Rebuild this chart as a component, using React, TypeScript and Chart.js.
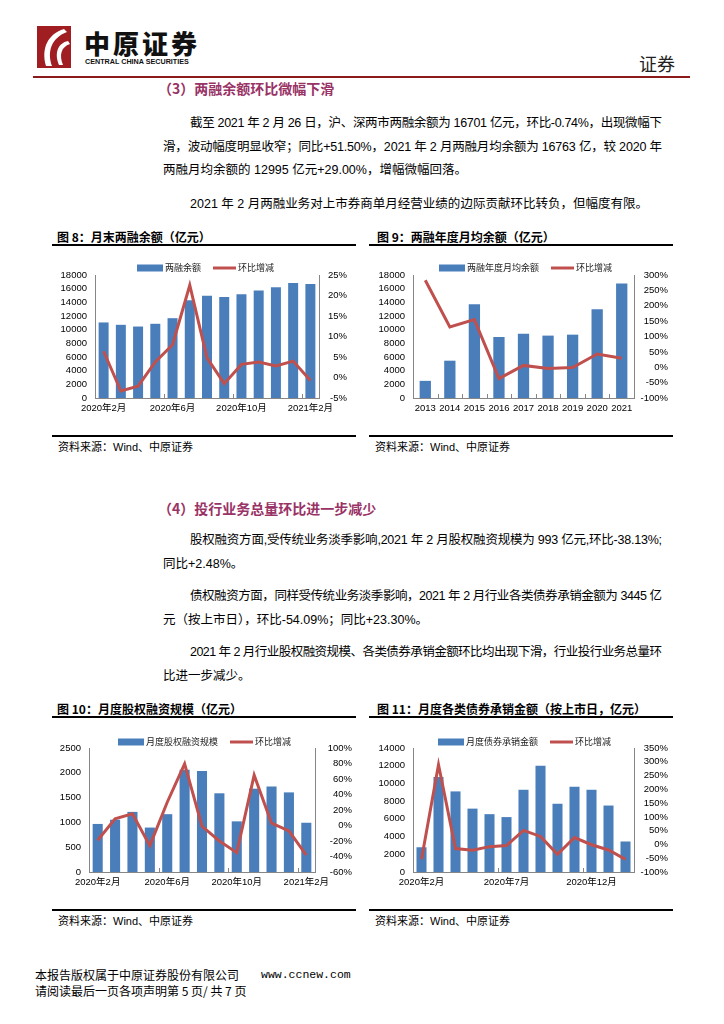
import React, { useEffect, useLayoutEffect, useRef } from 'react';
import { Chart, registerables } from 'chart.js';

Chart.register(...registerables);

// ---------------- data ----------------
const monthLabels = ['2020年2月', '2020年3月', '2020年4月', '2020年5月', '2020年6月', '2020年7月', '2020年8月', '2020年9月', '2020年10月', '2020年11月', '2020年12月', '2021年1月', '2021年2月'];
const marginBalance = [11055, 10710, 10460, 10860, 11680, 14290, 14960, 14770, 15200, 15740, 16220, 16826, 16701];
const marginBalanceMoM = [6.4, -3.3, -2.1, 3.8, 8.0, 22.5, 4.8, -1.5, 3.2, 3.8, 2.8, 4.0, -0.74];

const yearLabels = ['2013', '2014', '2015', '2016', '2017', '2018', '2019', '2020', '2021'];
const avgMarginBalance = [2510, 5460, 13710, 8930, 9420, 9130, 9270, 12995, 16763];
const avgMarginChange = [283, 131, 155, -37, 6, -4, -1, 43, 29];

const equityFinancing = [969, 1054, 1212, 896, 1166, 2062, 2036, 1587, 1021, 1680, 1726, 1605, 993];
const equityFinancingMoM = [-19, 8.6, 15, -26, 30, 79.6, -1, -20, -35, 65, 3, -7, -38.13];

const bondUnderwriting = [2794, 10715, 9100, 7155, 6530, 6200, 9285, 12000, 7705, 9615, 9285, 7504, 3445];
const bondUnderwritingMoM = [-54, 289, -15, -21, -8, -4, 51, 29, -36, 25, -1, -20, -54.09];

// ---------------- styles ----------------
const BAR = '#4A7EBB';
const LINE = '#C0504D';
const AXIS = '#868686';
const CJK = '"Noto Sans CJK SC", sans-serif';
const MIX = '"Liberation Sans", Arial, "Noto Sans CJK SC", sans-serif';

const customLegend = {
  id: 'customLegend',
  afterDraw(chart: any, _args: any, opts: any) {
    if (!opts || opts.x == null) return;
    const ctx = chart.ctx;
    ctx.save();
    ctx.font = `${opts.size || 9}px ${CJK}`;
    ctx.textBaseline = 'middle';
    ctx.textAlign = 'left';
    let x = opts.x;
    const y = opts.y;
    chart.data.datasets.forEach((ds: any, i: number) => {
      if (i > 0) x += 12;
      if (ds.type === 'bar') {
        ctx.fillStyle = ds.backgroundColor;
        ctx.fillRect(x, y - 3.5, 26, 7);
        x += 28;
      } else {
        ctx.strokeStyle = ds.borderColor;
        ctx.lineWidth = 3;
        ctx.beginPath();
        ctx.moveTo(x, y);
        ctx.lineTo(x + 23, y);
        ctx.stroke();
        x += 25;
      }
      ctx.fillStyle = '#222';
      ctx.fillText(ds.label, x, y);
      x += ctx.measureText(ds.label).width;
    });
    ctx.restore();
  },
};

// small inward tick marks on the category axis, placed between categories
const innerTicks = {
  id: 'innerTicks',
  afterDraw(chart: any, _args: any, opts: any) {
    const every = opts && opts.every;
    if (!every) return;
    const xs = chart.scales.x;
    const n = chart.data.labels.length;
    const ctx = chart.ctx;
    ctx.save();
    ctx.strokeStyle = AXIS;
    ctx.lineWidth = 1;
    for (let k = every; k < n; k += every) {
      const px = Math.round((xs.getPixelForValue(k - 1) + xs.getPixelForValue(k)) / 2) + 0.5;
      ctx.beginPath();
      ctx.moveTo(px, xs.top);
      ctx.lineTo(px, xs.top - 4);
      ctx.stroke();
    }
    ctx.restore();
  },
};

type Spec = {
  left: number; top: number; w: number; h: number;
  labels: string[]; bars: number[]; line: number[];
  barLabel: string; lineLabel: string;
  yMin: number; yMax: number; yStep: number;
  rMin: number; rMax: number; rStep: number;
  labelEvery: number; barPct: number;
  padTop: number; padRight: number; leftW: number; rightW: number; xH: number;
  legendX: number; legendY: number;
};

function buildConfig(s: Spec): any {
  const tickFont = { family: MIX, size: 9.5 };
  return {
    type: 'bar',
    data: {
      labels: s.labels,
      datasets: [
        { type: 'bar', label: s.barLabel, data: s.bars, backgroundColor: BAR, yAxisID: 'y', order: 1, barPercentage: s.barPct, categoryPercentage: 1 },
        { type: 'line', label: s.lineLabel, data: s.line, borderColor: LINE, backgroundColor: LINE, borderWidth: 3, pointRadius: 0, tension: 0, yAxisID: 'y1', order: 0 },
      ],
    },
    options: {
      animation: false,
      responsive: false,
      layout: { padding: { top: s.padTop, right: s.padRight, left: 0, bottom: 0 } },
      plugins: {
        legend: { display: false },
        tooltip: { enabled: false },
        customLegend: { x: s.legendX, y: s.legendY, size: 9 },
        innerTicks: { every: s.labelEvery },
      },
      scales: {
        x: {
          grid: { display: false, drawTicks: false },
          border: { display: true, color: AXIS },
          ticks: {
            autoSkip: false, maxRotation: 0, minRotation: 0, padding: 5, color: '#000', font: tickFont,
            callback(this: any, v: any, i: number) { return i % s.labelEvery === 0 ? this.getLabelForValue(v) : ''; },
          },
          afterFit(scale: any) { scale.height = s.xH; },
        },
        y: {
          position: 'left', min: s.yMin, max: s.yMax,
          grid: { display: false, drawTicks: false },
          border: { display: true, color: AXIS },
          ticks: { stepSize: s.yStep, autoSkip: false, padding: 8, color: '#000', font: tickFont, callback: (v: any) => String(v) },
          afterFit(scale: any) { scale.width = s.leftW; },
        },
        y1: {
          position: 'right', min: s.rMin, max: s.rMax,
          grid: { display: false, drawTicks: false },
          border: { display: true, color: AXIS },
          ticks: { stepSize: s.rStep, autoSkip: false, padding: 5, color: '#000', font: tickFont, crossAlign: 'far', callback: (v: any) => v + '%' },
          afterFit(scale: any) { scale.width = s.rightW; },
        },
      },
    },
    plugins: [customLegend, innerTicks],
  };
}

function ChartBox({ spec }: { spec: Spec }) {
  const ref = useRef<HTMLCanvasElement>(null);
  useEffect(() => {
    const chart = new Chart(ref.current as HTMLCanvasElement, buildConfig(spec));
    return () => chart.destroy();
  }, []);
  return (
    <canvas ref={ref} width={spec.w} height={spec.h}
      style={{ position: 'absolute', left: spec.left, top: spec.top, width: spec.w, height: spec.h }} />
  );
}

function Line({ x, y, text, right, size = 12.5, style = {} }: any) {
  const ref = useRef<HTMLSpanElement>(null);
  useLayoutEffect(() => {
    if (right == null || !ref.current) return;
    const el = ref.current;
    el.style.letterSpacing = '0px';
    const w = el.getBoundingClientRect().width;
    const n = Array.from(text as string).length;
    el.style.letterSpacing = ((right - x - w) / (n - 1)) + 'px';
  }, []);
  return (
    <div style={{ position: 'absolute', left: x, top: y - 10, lineHeight: '20px', whiteSpace: 'nowrap', fontSize: size, fontFamily: MIX, color: '#000', ...style }}>
      <span ref={ref}>{text}</span>
    </div>
  );
}

const chart8: Spec = {
  left: 52, top: 250, w: 306, h: 175,
  labels: monthLabels, bars: marginBalance, line: marginBalanceMoM,
  barLabel: '两融余额', lineLabel: '环比增减',
  yMin: 0, yMax: 18000, yStep: 2000, rMin: -5, rMax: 25, rStep: 5,
  labelEvery: 4, barPct: 0.58,
  padTop: 25, padRight: 11, leftW: 43, rightW: 28, xH: 27, legendX: 85, legendY: 18,
};
const chart9: Spec = {
  left: 369, top: 250, w: 306, h: 175,
  labels: yearLabels, bars: avgMarginBalance, line: avgMarginChange,
  barLabel: '两融年度月均余额', lineLabel: '环比增减',
  yMin: 0, yMax: 18000, yStep: 2000, rMin: -100, rMax: 300, rStep: 50,
  labelEvery: 1, barPct: 0.46,
  padTop: 25, padRight: 7, leftW: 44, rightW: 34, xH: 27, legendX: 70, legendY: 18,
};
const chart10: Spec = {
  left: 52, top: 722, w: 306, h: 175,
  labels: monthLabels, bars: equityFinancing, line: equityFinancingMoM,
  barLabel: '月度股权融资规模', lineLabel: '环比增减',
  yMin: 0, yMax: 2500, yStep: 500, rMin: -60, rMax: 100, rStep: 20,
  labelEvery: 4, barPct: 0.58,
  padTop: 26, padRight: 6, leftW: 37, rightW: 37, xH: 25, legendX: 66, legendY: 20,
};
const chart11: Spec = {
  left: 369, top: 722, w: 306, h: 175,
  labels: monthLabels, bars: bondUnderwriting, line: bondUnderwritingMoM,
  barLabel: '月度债券承销金额', lineLabel: '环比增减',
  yMin: 0, yMax: 14000, yStep: 2000, rMin: -100, rMax: 350, rStep: 50,
  labelEvery: 5, barPct: 0.59,
  padTop: 26, padRight: 7, leftW: 44, rightW: 34, xH: 25, legendX: 69, legendY: 20,
};

const abs = (o: any) => ({ position: 'absolute' as const, ...o });

function ChartTitle({ x, y, lineX, text }: any) {
  return (
    <>
      <div style={abs({ left: x, top: y - 9, lineHeight: '18px', fontSize: 12, fontWeight: 700, fontFamily: CJK, color: '#000', whiteSpace: 'nowrap' })}>{text}</div>
      <div style={abs({ left: lineX, top: y + 7, width: 304, height: 2, background: '#000' })} />
    </>
  );
}

function Source({ x, lineY, lineX }: any) {
  return (
    <>
      <div style={abs({ left: lineX, top: lineY, width: 304, height: 2, background: '#000' })} />
      <div style={abs({ left: x, top: lineY + 3, lineHeight: '18px', fontSize: 11, fontFamily: MIX, color: '#000', whiteSpace: 'nowrap' })}>资料来源：Wind、中原证券</div>
    </>
  );
}

export default function App() {
  const R = 662;
  return (
    <div style={abs({ left: 0, top: 0, width: 724, height: 1024, background: '#fff', overflow: 'hidden' })}>
      {/* header */}
      <svg width="34" height="42" style={abs({ left: 37, top: 26 })}>
        <rect x="0" y="0" width="34" height="42" fill="#A01E22" />
        <path d="M27 3 C 11 8, 4 22, 9 40 L 15 40 C 10 26, 14 12, 30 6 Z" fill="#fff" />
        <path d="M31 15 C 21 17, 17 27, 22 39 L 26 39 C 22 29, 24 21, 33 18 Z" fill="#fff" />
      </svg>
      <div style={abs({ left: 84, top: 28, fontSize: 26, lineHeight: '30px', fontWeight: 900, fontFamily: CJK, letterSpacing: 3, color: '#111' })}>中原证券</div>
      <div style={abs({ left: 85, top: 57, fontSize: 7.2, lineHeight: '9px', fontWeight: 700, fontFamily: MIX, color: '#111', whiteSpace: 'nowrap' })}>CENTRAL CHINA SECURITIES</div>
      <div style={abs({ left: 639, top: 52, fontSize: 18, lineHeight: '22px', fontFamily: CJK, color: '#222' })}>证券</div>
      <div style={abs({ left: 33, top: 76, width: 657, height: 2, background: '#8B1A1A' })} />

      {/* section 3 */}
      <div style={abs({ left: 158, top: 78, fontSize: 14, lineHeight: '20px', fontWeight: 700, fontFamily: CJK, color: '#993366', whiteSpace: 'nowrap' })}>（3）两融余额环比微幅下滑</div>
      <Line x={190} y={123} right={R} text="截至 2021 年 2 月 26 日，沪、深两市两融余额为 16701 亿元，环比-0.74%，出现微幅下" />
      <Line x={163} y={146.5} right={R} text="滑，波动幅度明显收窄；同比+51.50%，2021 年 2 月两融月均余额为 16763 亿，较 2020 年" />
      <Line x={163} y={170} text="两融月均余额的 12995 亿元+29.00%，增幅微幅回落。" />
      <Line x={190} y={203.5} right={648} text="2021 年 2 月两融业务对上市券商单月经营业绩的边际贡献环比转负，但幅度有限。" />

      <ChartTitle x={57} y={236.5} lineX={52} text="图 8：月末两融余额（亿元）" />
      <ChartTitle x={377} y={236.5} lineX={369} text="图 9：两融年度月均余额（亿元）" />
      <ChartBox spec={chart8} />
      <ChartBox spec={chart9} />
      <Source x={58} lineX={52} lineY={435} />
      <Source x={375} lineX={369} lineY={435} />

      {/* section 4 */}
      <div style={abs({ left: 158, top: 498, fontSize: 14, lineHeight: '20px', fontWeight: 700, fontFamily: CJK, color: '#993366', whiteSpace: 'nowrap' })}>（4）投行业务总量环比进一步减少</div>
      <Line x={190} y={540} right={R} text="股权融资方面,受传统业务淡季影响,2021 年 2 月股权融资规模为 993 亿元,环比-38.13%;" />
      <Line x={163} y={564} text="同比+2.48%。" />
      <Line x={190} y={596} right={R} text="债权融资方面，同样受传统业务淡季影响，2021 年 2 月行业各类债券承销金额为 3445 亿" />
      <Line x={163} y={620} text="元（按上市日），环比-54.09%；同比+23.30%。" />
      <Line x={190} y={652} right={R} text="2021 年 2 月行业股权融资规模、各类债券承销金额环比均出现下滑，行业投行业务总量环" />
      <Line x={163} y={676} text="比进一步减少。" />

      <ChartTitle x={57} y={708.5} lineX={52} text="图 10：月度股权融资规模（亿元）" />
      <ChartTitle x={377} y={708.5} lineX={369} text="图 11：月度各类债券承销金额（按上市日，亿元）" />
      <ChartBox spec={chart10} />
      <ChartBox spec={chart11} />
      <Source x={58} lineX={52} lineY={909} />
      <Source x={375} lineX={369} lineY={909} />

      {/* footer */}
      <div style={abs({ left: 35, top: 966, fontSize: 12, lineHeight: '18px', fontFamily: CJK, color: '#000', whiteSpace: 'nowrap' })}>本报告版权属于中原证券股份有限公司</div>
      <div style={abs({ left: 261, top: 966, fontSize: 11.5, lineHeight: '18px', fontFamily: '"Liberation Mono", monospace', color: '#000', whiteSpace: 'nowrap' })}>www.ccnew.com</div>
      <div style={abs({ left: 35, top: 982, fontSize: 12, lineHeight: '18px', fontFamily: CJK, color: '#000', whiteSpace: 'nowrap' })}>请阅读最后一页各项声明第 5 页/ 共 7 页</div>
    </div>
  );
}
